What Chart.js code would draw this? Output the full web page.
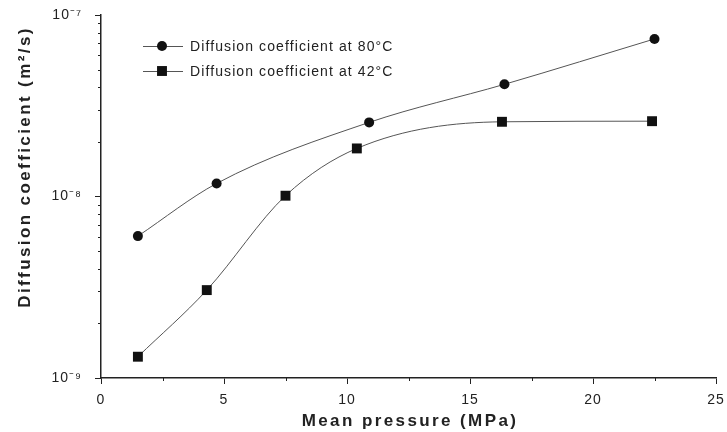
<!DOCTYPE html>
<html>
<head>
<meta charset="utf-8">
<script src="https://cdn.jsdelivr.net/npm/chart.js@4.4.1/dist/chart.umd.min.js"></script>
<style>
  html, body { margin: 0; padding: 0; background: #fff; }
  #wrap { width: 727px; height: 432px; }
</style>
</head>
<body>
<div id="wrap"><canvas id="myChart" width="727" height="432"></canvas></div>
<script>
// values
const pressure80 = [1.5, 4.7, 10.9, 16.4, 22.5];
const diffusion80 = [6.05e-9, 1.18e-8, 2.56e-8, 4.15e-8, 7.38e-8];
const pressure42 = [1.5, 4.3, 7.5, 10.4, 16.3, 22.4];
const diffusion42 = [1.31e-9, 3.05e-9, 1.01e-8, 1.84e-8, 2.58e-8, 2.6e-8];

const seriesLabels = ['Diffusion coefficient at 80\u00B0C', 'Diffusion coefficient at 42\u00B0C'];

// axes
const xTicks = [0, 5, 10, 15, 20, 25];
const xMinorTicks = [2.5, 7.5, 12.5, 17.5, 22.5];
const yTicks = [1e-9, 1e-8, 1e-7];
const yTickLabels = ['10\u207B\u2079', '10\u207B\u2078', '10\u207B\u2077'];
const yMinorMult = [2, 3, 4, 5, 6, 7, 8, 9];

const FONT = "'Liberation Sans', Arial, sans-serif";
const INK = '#222';

const toPoints = (xs, ys) => xs.map((x, i) => ({ x: x, y: ys[i] }));

// drop the label overhang so the plot box sits where the scan has it
function noOverhang(s) {
  s.paddingTop = 0;
  s.paddingBottom = 0;
  s.paddingLeft = 0;
  s.paddingRight = 0;
}

// the scan is a bit stretched sideways, so text gets some letter spacing
const extras = {
  id: 'extras',
  beforeDraw(chart) {
    chart.ctx.letterSpacing = '1px';
  },
  afterDraw(chart) {
    const ctx = chart.ctx;
    const x = chart.scales.x;
    const y = chart.scales.y;
    ctx.save();

    // minor ticks
    ctx.strokeStyle = INK;
    ctx.lineWidth = 1;
    ctx.beginPath();
    yTicks.slice(0, -1).forEach(dec => {
      yMinorMult.forEach(m => {
        const py = Math.round(y.getPixelForValue(m * dec)) + 0.5;
        ctx.moveTo(y.right - 3, py);
        ctx.lineTo(y.right, py);
      });
    });
    xMinorTicks.forEach(v => {
      const px = Math.round(x.getPixelForValue(v)) + 0.5;
      ctx.moveTo(px, x.top);
      ctx.lineTo(px, x.top + 3);
    });
    ctx.stroke();

    // axis titles
    ctx.fillStyle = INK;
    ctx.font = 'bold 17px ' + FONT;
    ctx.letterSpacing = '2.4px';
    ctx.textAlign = 'center';
    ctx.textBaseline = 'middle';
    ctx.fillText('Mean pressure (MPa)', 410, 421);
    ctx.translate(25, 167);
    ctx.rotate(-Math.PI / 2);
    ctx.fillText('Diffusion coefficient (m\u00B2/s)', 0, 0);
    ctx.setTransform(1, 0, 0, 1, 0, 0);

    // legend
    ctx.font = '14px ' + FONT;
    ctx.letterSpacing = '1.1px';
    ctx.textAlign = 'left';
    chart.data.datasets.forEach((ds, i) => {
      const ly = 46 + i * 25;
      ctx.strokeStyle = ds.borderColor;
      ctx.lineWidth = 1;
      ctx.beginPath();
      ctx.moveTo(143, ly + 0.5);
      ctx.lineTo(183, ly + 0.5);
      ctx.stroke();
      ctx.fillStyle = ds.pointBackgroundColor;
      if (ds.pointStyle === 'circle') {
        ctx.beginPath();
        ctx.arc(162, ly, ds.pointRadius, 0, Math.PI * 2);
        ctx.fill();
      } else {
        const s = ds.pointRadius * Math.SQRT1_2;
        ctx.fillRect(162 - s, ly - s, 2 * s, 2 * s);
      }
      ctx.fillStyle = INK;
      ctx.fillText(ds.label, 190, ly + 1);
    });
    ctx.restore();
  }
};

new Chart(document.getElementById('myChart').getContext('2d'), {
  type: 'line',
  data: {
    datasets: [
      {
        label: seriesLabels[0],
        data: toPoints(pressure80, diffusion80),
        borderColor: '#555',
        borderWidth: 1,
        pointStyle: 'circle',
        pointRadius: 5,
        pointBackgroundColor: '#111',
        pointBorderColor: '#111',
        pointBorderWidth: 0,
        cubicInterpolationMode: 'monotone',
      },
      {
        label: seriesLabels[1],
        data: toPoints(pressure42, diffusion42),
        borderColor: '#555',
        borderWidth: 1,
        pointStyle: 'rect',
        pointRadius: 7,
        pointBackgroundColor: '#111',
        pointBorderColor: '#111',
        pointBorderWidth: 0,
        cubicInterpolationMode: 'monotone',
      },
    ],
  },
  options: {
    responsive: false,
    animation: false,
    layout: { padding: { top: 15, right: 11, left: 0, bottom: 0 } },
    plugins: {
      legend: { display: false },
      tooltip: { enabled: false },
    },
    scales: {
      x: {
        type: 'linear',
        min: 0,
        max: 25,
        afterBuildTicks: s => { s.ticks = xTicks.map(v => ({ value: v })); },
        afterFit: s => { s.height = 54; noOverhang(s); },
        border: { color: INK, width: 1.5 },
        grid: { drawOnChartArea: false, drawTicks: true, tickLength: 6, color: INK },
        ticks: { font: { family: FONT, size: 14 }, color: INK, padding: 8, maxRotation: 0 },
      },
      y: {
        type: 'logarithmic',
        min: 1e-9,
        max: 1e-7,
        afterBuildTicks: s => { s.ticks = yTicks.map(v => ({ value: v })); },
        afterFit: s => { s.width = 101; noOverhang(s); },
        border: { color: INK, width: 1.5 },
        grid: { drawOnChartArea: false, drawTicks: true, tickLength: 6, color: INK },
        ticks: {
          font: { family: FONT, size: 14 },
          color: INK,
          padding: 13,
          callback: (v, i) => yTickLabels[i],
        },
      },
    },
  },
  plugins: [extras],
});
</script>
</body>
</html>
